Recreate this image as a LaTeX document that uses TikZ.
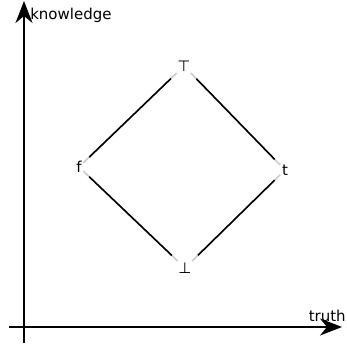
\documentclass[tikz,border=0pt]{standalone}
\usepackage{fontspec}
\setmainfont{DejaVu Sans}
\usetikzlibrary{arrows.meta}
\tikzset{
  axis/.style={line width=2pt, -{Stealth[length=22pt, width=17pt, inset=7pt]}},
  label/.style={inner sep=0pt, scale=1.5, transform shape},
  lattice/.style={inner sep=1pt, scale=1.5, transform shape},
  edge/.style={black, line width=1.6pt, shorten <=8pt, shorten >=8pt},
  fade/.style={black!20, line width=1.6pt}
}
\begin{document}
\begin{tikzpicture}[x=1pt, y=-1pt]
  \useasboundingbox (0,0) rectangle (347,345);
  % Axes
  \coordinate (xstart) at (9,327);
  \coordinate (xend) at (342,327);
  \coordinate (ystart) at (24,343);
  \coordinate (yend) at (24,1);
  \draw[axis] (xstart) -- (xend);
  \draw[axis] (ystart) -- (yend);
  \node[label, anchor=west] (klabel) at (30,15) {knowledge};
  \node[label, anchor=east] (tlabel) at (346,316) {truth};

  % Bilattice
  \node[lattice] (top) at (184,66) {⊤};
  \node[lattice] (f) at (79,167) {f};
  \node[lattice] (t) at (285,170) {t};
  \node[lattice] (bot) at (185,268) {⊥};
  \foreach \a/\b in {top/f, top/t, f/bot, t/bot} {
    \draw[fade] (\a) -- (\b);
    \draw[edge] (\a) -- (\b);
  }
\end{tikzpicture}
\end{document}
